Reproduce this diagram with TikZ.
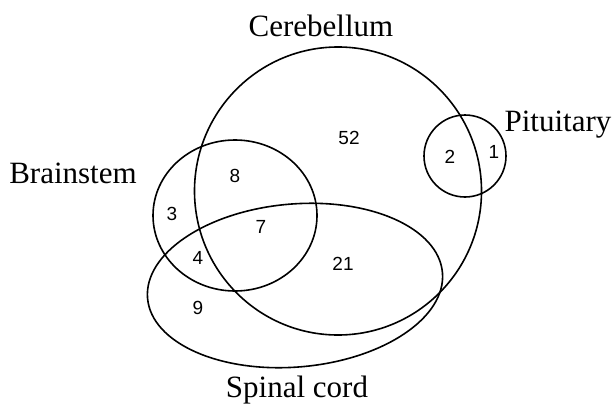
\documentclass[tikz,border=0pt]{standalone}
\usepackage{fontspec}
\setmainfont{Liberation Serif}
\newfontfamily\countfont{Liberation Sans}
\usetikzlibrary{shapes.geometric}

\begin{document}
\begin{tikzpicture}[
    x=1pt, y=-1pt,
    set/.style={ellipse, draw, line width=1.6pt, inner sep=0pt},
    count/.style={inner sep=0pt, font=\countfont\fontsize{19}{21}\selectfont},
    setname/.style={inner sep=0pt, font=\fontsize{31}{36}\selectfont}
]
\useasboundingbox (0,0) rectangle (612,407);

% Sets
\node[set, minimum width=287pt, minimum height=288pt] (cerebellum) at (338,191) {};
\node[set, minimum width=164pt, minimum height=151pt] (brainstem) at (235,215.5) {};
\node[set, minimum width=82pt, minimum height=82pt] (pituitary) at (465,156) {};
\node[set, minimum width=296pt, minimum height=163pt, rotate=5] (spinal) at (295,285.5) {};

% Set names
\node[setname] (cerebellum-name) at (321,26) {Cerebellum};
\node[setname] (brainstem-name) at (73,173) {Brainstem};
\node[setname] (pituitary-name) at (558,125) {Pituitary};
\node[setname] (spinal-name) at (297,390) {Spinal cord};

% Counts
\node[count] (c-only) at (349,138) {52};
\node[count] (cp) at (450,157) {2};
\node[count] (p-only) at (494,152) {1};
\node[count] (cb) at (235,176) {8};
\node[count] (b-only) at (172,214) {3};
\node[count] (cbs) at (261,227) {7};
\node[count] (bs) at (198,258) {4};
\node[count] (cs) at (343,264) {21};
\node[count] (s-only) at (198,308) {9};

\end{tikzpicture}
\end{document}
